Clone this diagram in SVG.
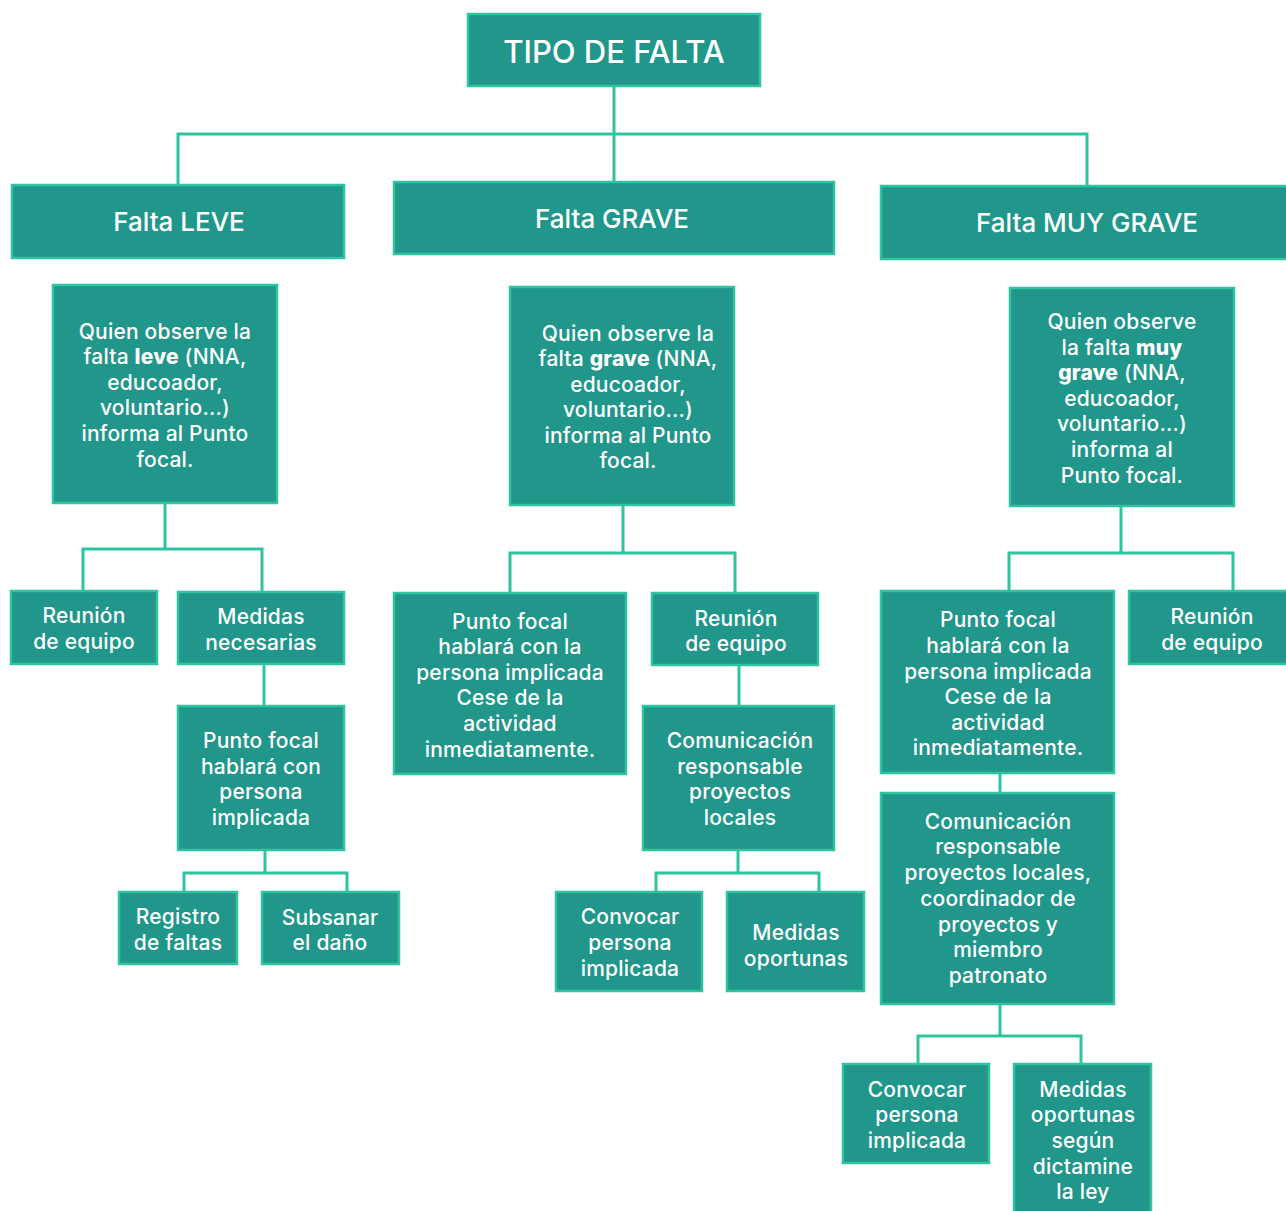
<svg xmlns="http://www.w3.org/2000/svg" width="1286" height="1211" viewBox="0 0 1286 1211">
<style>
rect.n{fill:#21968b;stroke:#2fc4a0;stroke-width:2.5}
text{fill:#ffffff;font-family:Inter,"Open Sans","Liberation Sans",sans-serif;font-weight:500;text-anchor:middle}
text.t{font-size:21px;letter-spacing:0.2px}
text.h{font-size:26px}
text.top{font-size:31px}
tspan.b{font-weight:800}
#connectors path{fill:none;stroke:#2fc4a0;stroke-width:3}
</style>
<rect width="1286" height="1211" fill="#ffffff"/>
<g id="connectors">
<path d="M614 86V182M178 185V134H1087V186"/>
<path d="M165 503V549M83 591V549H262V591"/>
<path d="M264 664V706"/>
<path d="M265 850V873M184 892V873H347V892"/>
<path d="M623 505V553M510 593V553H735V593"/>
<path d="M739 665V706"/>
<path d="M738 850V873M656 892V873H819V892"/>
<path d="M1121 506V553M1009 591V553H1233V591"/>
<path d="M1000 773V793"/>
<path d="M1000 1004V1036M918 1064V1036H1081V1064"/>
</g>
<g id="tipo"><rect class="n" x="468" y="14" width="292" height="72"/><text class="top" x="614" y="63">TIPO DE FALTA</text></g>
<g id="leve"><rect class="n" x="12" y="185" width="332" height="73"/><text class="h" x="179" y="231">Falta LEVE</text></g>
<g id="grave"><rect class="n" x="394" y="182" width="440" height="72"/><text class="h" x="612" y="228">Falta GRAVE</text></g>
<g id="muygrave"><rect class="n" x="881" y="186" width="410" height="73"/><text class="h" x="1087" y="232">Falta MUY GRAVE</text></g>

<g id="leve-quien"><rect class="n" x="53" y="285" width="224" height="218"/>
<text class="t" x="165" y="339">Quien observe la</text>
<text class="t" x="165" y="364">falta <tspan class="b">leve</tspan> (NNA,</text>
<text class="t" x="165" y="390">educoador,</text>
<text class="t" x="165" y="415">voluntario...)</text>
<text class="t" x="165" y="441">informa al Punto</text>
<text class="t" x="165" y="467">focal.</text></g>
<g id="leve-reunion"><rect class="n" x="11" y="591" width="146" height="73"/>
<text class="t" x="84" y="623">Reunión</text><text class="t" x="84" y="649">de equipo</text></g>
<g id="leve-medidas"><rect class="n" x="178" y="592" width="166" height="72"/>
<text class="t" x="261" y="624">Medidas</text><text class="t" x="261" y="650">necesarias</text></g>
<g id="leve-punto"><rect class="n" x="178" y="706" width="166" height="144"/>
<text class="t" x="261" y="748">Punto focal</text><text class="t" x="261" y="774">hablará con</text><text class="t" x="261" y="799">persona</text><text class="t" x="261" y="825">implicada</text></g>
<g id="leve-registro"><rect class="n" x="119" y="892" width="118" height="72"/>
<text class="t" x="178" y="924">Registro</text><text class="t" x="178" y="950">de faltas</text></g>
<g id="leve-subsanar"><rect class="n" x="262" y="892" width="137" height="72"/>
<text class="t" x="330" y="925">Subsanar</text><text class="t" x="330" y="950">el daño</text></g>

<g id="grave-quien"><rect class="n" x="510" y="287" width="224" height="218"/>
<text class="t" x="628" y="341">Quien observe la</text>
<text class="t" x="628" y="366">falta <tspan class="b">grave</tspan> (NNA,</text>
<text class="t" x="628" y="392">educoador,</text>
<text class="t" x="628" y="417">voluntario...)</text>
<text class="t" x="628" y="443">informa al Punto</text>
<text class="t" x="628" y="468">focal.</text></g>
<g id="grave-punto"><rect class="n" x="394" y="593" width="232" height="181"/>
<text class="t" x="510" y="629">Punto focal</text>
<text class="t" x="510" y="654">hablará con la</text>
<text class="t" x="510" y="680">persona implicada</text>
<text class="t" x="510" y="705">Cese de la</text>
<text class="t" x="510" y="731">actividad</text>
<text class="t" x="510" y="757">inmediatamente.</text></g>
<g id="grave-reunion"><rect class="n" x="652" y="593" width="166" height="72"/>
<text class="t" x="736" y="626">Reunión</text><text class="t" x="736" y="651">de equipo</text></g>
<g id="grave-comunicacion"><rect class="n" x="643" y="706" width="191" height="144"/>
<text class="t" x="740" y="748">Comunicación</text><text class="t" x="740" y="774">responsable</text><text class="t" x="740" y="799">proyectos</text><text class="t" x="740" y="825">locales</text></g>
<g id="grave-convocar"><rect class="n" x="556" y="892" width="146" height="99"/>
<text class="t" x="630" y="924">Convocar</text><text class="t" x="630" y="950">persona</text><text class="t" x="630" y="976">implicada</text></g>
<g id="grave-medidas"><rect class="n" x="727" y="892" width="137" height="99"/>
<text class="t" x="796" y="940">Medidas</text><text class="t" x="796" y="966">oportunas</text></g>

<g id="muy-quien"><rect class="n" x="1010" y="288" width="224" height="218"/>
<text class="t" x="1122" y="329">Quien observe</text>
<text class="t" x="1122" y="355">la falta <tspan class="b">muy</tspan></text>
<text class="t" x="1122" y="380"><tspan class="b">grave</tspan> (NNA,</text>
<text class="t" x="1122" y="406">educoador,</text>
<text class="t" x="1122" y="431">voluntario...)</text>
<text class="t" x="1122" y="457">informa al</text>
<text class="t" x="1122" y="483">Punto focal.</text></g>
<g id="muy-punto"><rect class="n" x="881" y="591" width="233" height="182"/>
<text class="t" x="998" y="627">Punto focal</text>
<text class="t" x="998" y="653">hablará con la</text>
<text class="t" x="998" y="679">persona implicada</text>
<text class="t" x="998" y="704">Cese de la</text>
<text class="t" x="998" y="730">actividad</text>
<text class="t" x="998" y="755">inmediatamente.</text></g>
<g id="muy-reunion"><rect class="n" x="1129" y="591" width="162" height="73"/>
<text class="t" x="1212" y="624">Reunión</text><text class="t" x="1212" y="650">de equipo</text></g>
<g id="muy-comunicacion"><rect class="n" x="881" y="793" width="233" height="211"/>
<text class="t" x="998" y="829">Comunicación</text>
<text class="t" x="998" y="854">responsable</text>
<text class="t" x="998" y="880">proyectos locales,</text>
<text class="t" x="998" y="906">coordinador de</text>
<text class="t" x="998" y="932">proyectos y</text>
<text class="t" x="998" y="957">miembro</text>
<text class="t" x="998" y="983">patronato</text></g>
<g id="muy-convocar"><rect class="n" x="843" y="1064" width="146" height="99"/>
<text class="t" x="917" y="1097">Convocar</text><text class="t" x="917" y="1122">persona</text><text class="t" x="917" y="1148">implicada</text></g>
<g id="muy-medidas"><rect class="n" x="1014" y="1064" width="137" height="152"/>
<text class="t" x="1083" y="1097">Medidas</text><text class="t" x="1083" y="1122">oportunas</text><text class="t" x="1083" y="1148">según</text><text class="t" x="1083" y="1174">dictamine</text><text class="t" x="1083" y="1199">la ley</text></g>
</svg>
